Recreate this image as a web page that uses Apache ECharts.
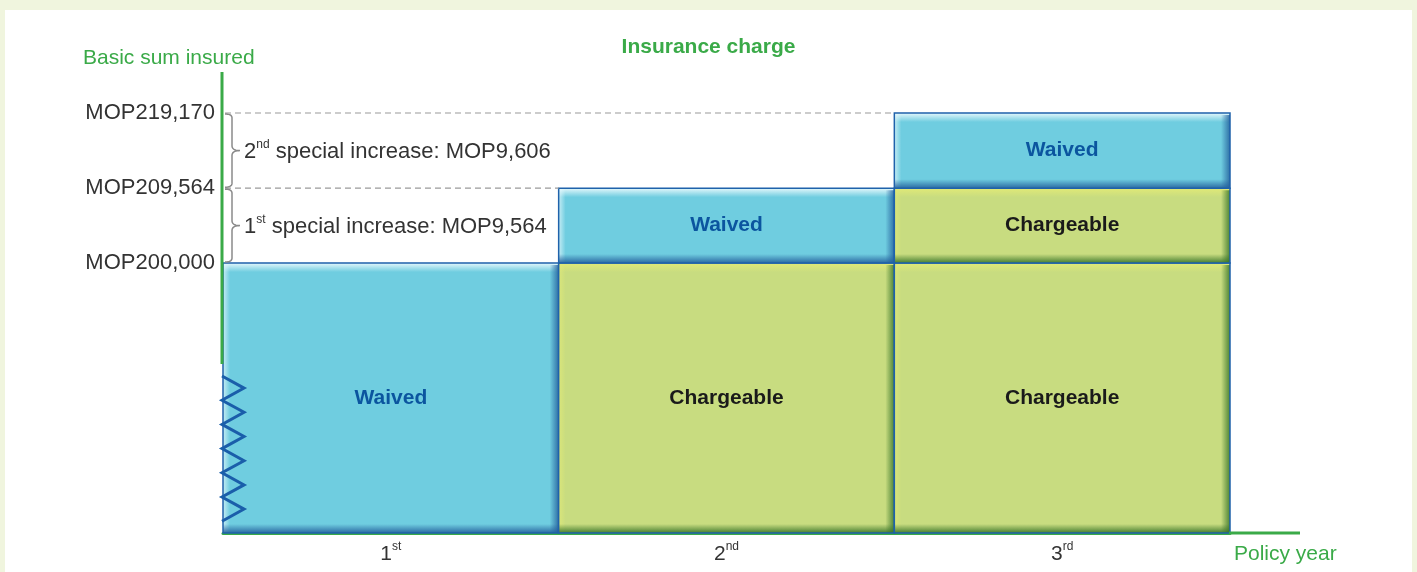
<!DOCTYPE html>
<html>
<head>
<meta charset="utf-8">
<title>Insurance charge</title>
<script src="https://cdn.jsdelivr.net/npm/echarts@6/dist/echarts.min.js"></script>
<style>
    html, body { margin: 0; padding: 0; background: #f0f5de; }
    #panel { position: absolute; left: 5px; top: 10px; width: 1407px; height: 562px; background: #fff; }
    #main { position: absolute; left: 0; top: 0; width: 1417px; height: 572px; }
</style>
</head>
<body>
<div id="panel"></div>
<div id="main"></div>
<script>
var years = ['1st', '2nd', '3rd'];
var baseSum = 200000;
var specialIncrease = [9564, 9606];
var increaseNames = ['1st', '2nd'];
var baseStatus = ['Waived', 'Chargeable', 'Chargeable'];
var increase1Status = [null, 'Waived', 'Chargeable'];
var increase2Status = [null, null, 'Waived'];
var tickValues = [200000, 209564, 219170];

var FONT = '"Liberation Sans", Arial, sans-serif';
var GREEN = '#3aaa48';

// stack levels: 0 -> base -> +1st increase -> +2nd increase
var levels = [0, baseSum, baseSum + specialIncrease[0], baseSum + specialIncrease[0] + specialIncrease[1]];
var segments = [];
[baseStatus, increase1Status, increase2Status].forEach(function (row, k) {
    row.forEach(function (status, i) {
        if (status) {
            segments.push({value: [i, levels[k], levels[k + 1]], status: status});
        }
    });
});

var palette = {
    Waived: {fill: '#6fcde0', light: [235, 250, 253], dark: [36, 96, 156], text: '#0b559f'},
    Chargeable: {fill: '#c8dc80', light: [226, 234, 118], dark: [56, 116, 40], text: '#1a1a1a'}
};

function rgba(c, a) {
    return 'rgba(' + c[0] + ',' + c[1] + ',' + c[2] + ',' + a + ')';
}
function grad(x2, y2, c, from, to) {
    return new echarts.graphic.LinearGradient(0, 0, x2, y2, [
        {offset: 0, color: rgba(c, from)},
        {offset: 1, color: rgba(c, to)}
    ]);
}

function renderBar(params, api) {
    var seg = segments[params.dataIndex];
    var pal = palette[seg.status];
    var cs = params.coordSys;
    var top = api.coord([api.value(0), api.value(2)]);
    var bot = api.coord([api.value(0), api.value(1)]);
    var w = api.size([1, 0])[0];
    var x = top[0] - w / 2;
    var y = top[1];
    var h = Math.min(bot[1], cs.y + cs.height) - y;
    var b = 9;
    return {
        type: 'group',
        children: [
            {type: 'rect', shape: {x: x, y: y, width: w, height: h}, style: {fill: pal.fill}},
            {type: 'rect', shape: {x: x, y: y, width: 7, height: h}, style: {fill: grad(1, 0, pal.light, 0.7, 0)}},
            {type: 'rect', shape: {x: x, y: y, width: w, height: b}, style: {fill: grad(0, 1, pal.light, 0.95, 0)}},
            {type: 'rect', shape: {x: x + w - b, y: y + 2, width: b, height: h - 2}, style: {fill: grad(1, 0, pal.dark, 0, 0.85)}},
            {type: 'rect', shape: {x: x, y: y + h - b, width: w, height: b}, style: {fill: grad(0, 1, pal.dark, 0, 0.9)}},
            {type: 'rect', shape: {x: x, y: y, width: w, height: h}, style: {fill: 'none', stroke: '#1f62ab', lineWidth: 1.5}},
            {
                type: 'text',
                style: {
                    text: seg.status, x: x + w / 2, y: y + h / 2,
                    align: 'center', verticalAlign: 'middle',
                    fill: pal.text, fontSize: 21, fontWeight: 'bold', fontFamily: FONT
                }
            }
        ]
    };
}

function money(v) {
    return 'MOP' + v.toLocaleString('en-US');
}

// sample a quadratic curve into points
function quad(p0, p1, p2, pts) {
    for (var t = 0.1; t <= 1.0001; t += 0.1) {
        var a = (1 - t) * (1 - t), b = 2 * (1 - t) * t, c = t * t;
        pts.push([a * p0[0] + b * p1[0] + c * p2[0], a * p0[1] + b * p1[1] + c * p2[1]]);
    }
}

var myChart = echarts.init(document.getElementById('main'));

var option = {
    animation: false,
    textStyle: {fontFamily: FONT},
    title: [
        {
            text: 'Insurance charge',
            left: 'center',
            top: 32,
            textStyle: {color: GREEN, fontSize: 21, fontWeight: 'bold', fontFamily: FONT}
        },
        {
            text: 'Basic sum insured',
            left: 78,
            top: 43,
            textStyle: {color: GREEN, fontSize: 21, fontWeight: 'normal', fontFamily: FONT}
        }
    ],
    grid: {left: 223, right: 187, top: 72, bottom: 39, outerBoundsMode: 'none'},
    xAxis: {
        type: 'category',
        data: years,
        axisLine: {lineStyle: {color: GREEN, width: 3}},
        axisTick: {show: false},
        axisLabel: {
            margin: 8,
            formatter: function (v) {
                return v.replace(/^(\d+)(\D+)$/, '{n|$1}{s|$2}');
            },
            rich: {
                n: {fontSize: 21, color: '#333', verticalAlign: 'bottom', lineHeight: 24, fontFamily: FONT},
                s: {fontSize: 12, color: '#333', verticalAlign: 'top', lineHeight: 14, fontFamily: FONT}
            }
        },
        name: 'Policy year',
        nameLocation: 'end',
        nameGap: 4,
        nameTextStyle: {color: GREEN, fontSize: 21, align: 'left', verticalAlign: 'top', padding: [11, 0, 0, 0]}
    },
    yAxis: {
        type: 'value',
        min: 165500,
        max: 224410,
        axisLine: {show: false},
        axisTick: {show: false},
        splitLine: {show: false},
        axisLabel: {
            customValues: tickValues,
            margin: 8,
            color: '#333',
            fontSize: 22,
            formatter: money
        }
    },
    series: [{
        type: 'custom',
        name: 'Insurance charge',
        renderItem: renderBar,
        encode: {x: 0, y: [1, 2]},
        data: segments.map(function (s) { return s.value; })
    }]
};
myChart.setOption(option);

// decorations: axis line, break zigzag, braces, dashed guides
var gx = function (i) { return myChart.convertToPixel({xAxisIndex: 0}, i); };
var gy = function (v) { return myChart.convertToPixel({yAxisIndex: 0}, v); };
var catW = gx(1) - gx(0);
var axisX = gx(0) - catW / 2 - 1;
var plotTop = gy(option.yAxis.max);
var plotBottom = gy(option.yAxis.min);
var plotRight = gx(years.length - 1) + catW / 2;

var elements = [];
elements.push({
    type: 'line', z: 50,
    shape: {x1: axisX, y1: plotTop, x2: axisX, y2: plotBottom - 169},
    style: {stroke: GREEN, lineWidth: 3}
});
elements.push({
    type: 'line', z: 50,
    shape: {x1: plotRight - 1, y1: plotBottom, x2: 1300, y2: plotBottom},
    style: {stroke: GREEN, lineWidth: 3}
});

var zig = [];
for (var i = 0; i < 13; i++) {
    zig.push([axisX + (i % 2 ? 22 : 0), plotBottom - 157 + i * 12.1]);
}
elements.push({
    type: 'polyline', z: 50,
    shape: {points: zig},
    style: {stroke: '#1a5eaa', lineWidth: 3, fill: null}
});

var rows = [increase1Status, increase2Status];
specialIncrease.forEach(function (amt, k) {
    var y1 = gy(levels[k + 2]);
    var y2 = gy(levels[k + 1]);
    var ym = (y1 + y2) / 2;
    var first = rows[k].findIndex(function (s) { return s; });
    elements.push({
        type: 'line', z: 40,
        shape: {x1: axisX + 3, y1: y1, x2: gx(first) - catW / 2, y2: y1},
        style: {stroke: '#9a9a9a', lineWidth: 1.2, lineDash: [6, 4]}
    });
    var x0 = axisX + 3, xs = axisX + 10, xt = axisX + 18, r = 5;
    var pts = [[x0, y1 + 1]];
    quad([x0, y1 + 1], [xs, y1 + 1], [xs, y1 + r], pts);
    pts.push([xs, ym - r]);
    quad([xs, ym - r], [xs, ym], [xt, ym], pts);
    quad([xt, ym], [xs, ym], [xs, ym + r], pts);
    pts.push([xs, y2 - r]);
    quad([xs, y2 - r], [xs, y2 - 1], [x0, y2 - 1], pts);
    elements.push({
        type: 'polyline', z: 50,
        shape: {points: pts},
        style: {stroke: '#8a8a8a', lineWidth: 1.5, fill: null}
    });
    var m = increaseNames[k].match(/^(\d+)(\D+)$/);
    elements.push({
        type: 'text', z: 50,
        style: {
            x: axisX + 22, y: ym,
            text: '{n|' + m[1] + '}{s|' + m[2] + '}{n| special increase: ' + money(amt) + '}',
            verticalAlign: 'middle',
            rich: {
                n: {fontSize: 22, fill: '#333', verticalAlign: 'bottom', lineHeight: 24, fontFamily: FONT},
                s: {fontSize: 12, fill: '#333', verticalAlign: 'top', lineHeight: 14, fontFamily: FONT}
            }
        }
    });
});

myChart.setOption({graphic: {elements: elements}});
window.onresize = myChart.resize;
</script>
</body>
</html>
